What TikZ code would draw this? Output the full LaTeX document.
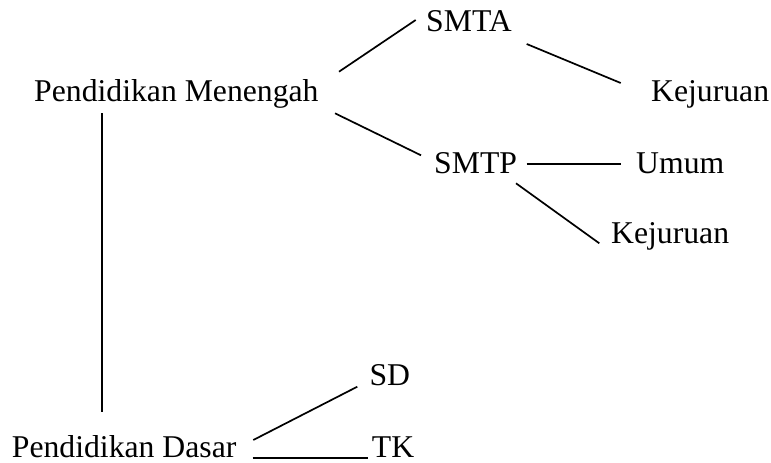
\documentclass[tikz,border=0pt]{standalone}
\usepackage{fontspec}
\setmainfont{Liberation Serif}
\begin{document}
\begin{tikzpicture}[x=1pt,y=-1pt,
  lbl/.style={anchor=base west,inner sep=0pt,font=\fontsize{31.7}{38}\selectfont},
  conn/.style={line width=1.7pt}]
\useasboundingbox (0,0) rectangle (771,463);
\node[lbl] (pm) at (34,101.7) {Pendidikan Menengah};
\node[lbl] (smta) at (426,31.7) {SMTA};
\node[lbl] (kej1) at (651,101.5) {Kejuruan};
\node[lbl] (smtp) at (434,173.3) {SMTP};
\node[lbl] (umum) at (636,173.3) {Umum};
\node[lbl] (kej2) at (611,243.3) {Kejuruan};
\node[lbl,text depth=0pt] (pd) at (11.7,457.7) {Pendidikan Dasar};
\node[lbl] (sd) at (369.3,385.3) {SD};
\node[lbl,text depth=0pt] (tk) at (371.7,457.7) {TK};
% connector end points
\coordinate (pmA) at (339,71.7);   \coordinate (smtaW) at (415.7,20);
\coordinate (smtaE) at (526.7,44); \coordinate (kej1W) at (620.7,83);
\coordinate (pmB) at (335,113.3);  \coordinate (smtpW) at (421,155.3);
\coordinate (smtpE) at (526.7,163.7); \coordinate (umumW) at (620.7,163.7);
\coordinate (smtpS) at (516,183.3); \coordinate (kej2W) at (599.3,243.3);
\coordinate (pmS) at (102.3,113.3); \coordinate (pdN) at (102.3,411.7);
\coordinate (pdE1) at (253.3,440); \coordinate (sdW) at (357.3,386.7);
\coordinate (pdE2) at (252.7,458.3); \coordinate (tkW) at (368.3,458.3);
\draw[conn] (pmA) -- (smtaW);
\draw[conn] (smtaE) -- (kej1W);
\draw[conn] (pmB) -- (smtpW);
\draw[conn] (smtpE) -- (umumW);
\draw[conn] (smtpS) -- (kej2W);
\draw[conn] (pmS) -- (pdN);
\draw[conn] (pdE1) -- (sdW);
\draw[conn] (pdE2) -- (tkW);
\end{tikzpicture}
\end{document}
